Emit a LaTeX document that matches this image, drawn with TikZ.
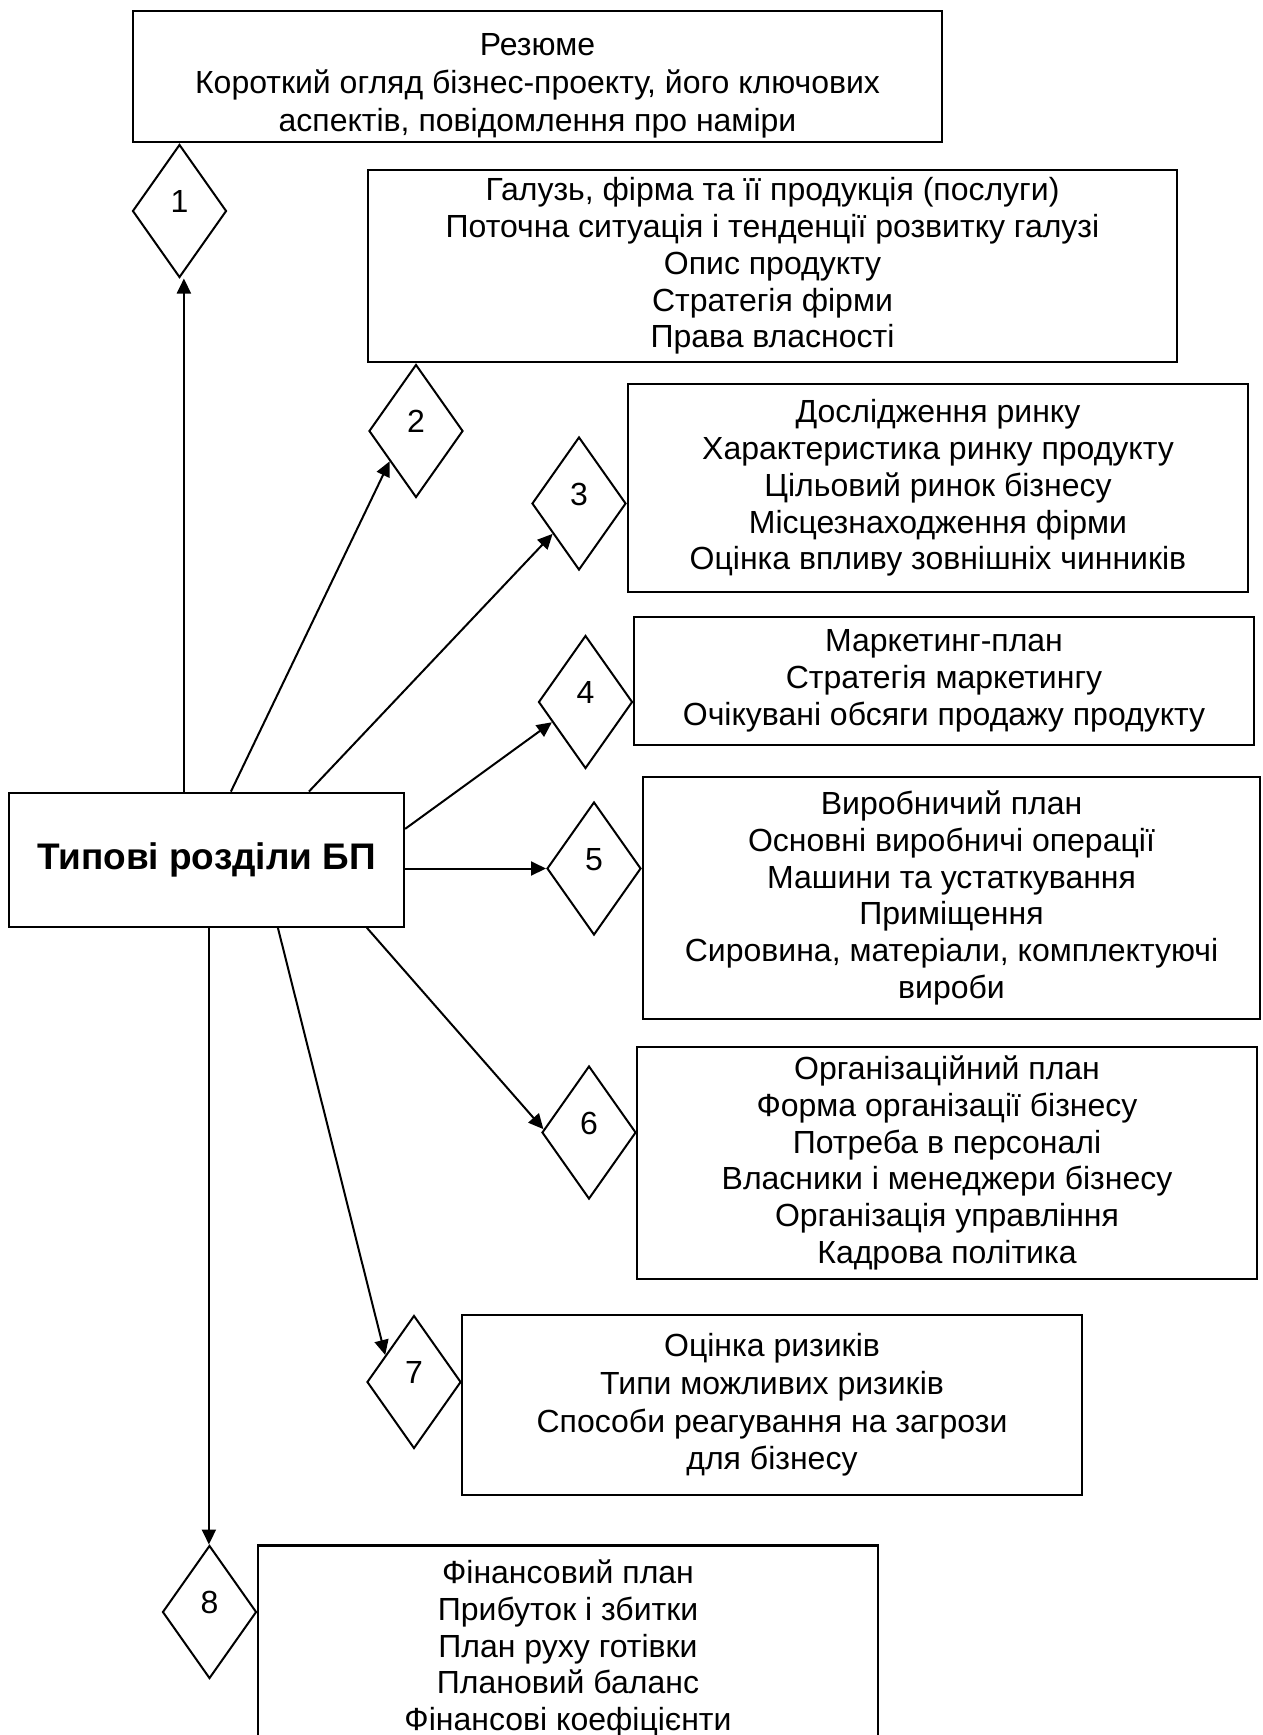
\documentclass[tikz,border=0pt]{standalone}
\usepackage{fontspec}
\setmainfont{Liberation Sans}
\usetikzlibrary{shapes.geometric,arrows.meta,calc}
\begin{document}
\begin{tikzpicture}[x=1pt,y=-1pt,
  box/.style={draw,line width=2.2pt,rectangle,align=center,inner sep=0pt,font=\fontsize{32}{36.8}\selectfont},
  dia/.style={draw,line width=2pt,diamond,inner sep=0pt,minimum width=94pt,minimum height=133pt,font=\fontsize{32}{36}\selectfont},
  arr/.style={line width=2pt,-{Triangle[length=15pt,width=14pt]}}]
\useasboundingbox[fill=white] (0,0) rectangle (1262,1735);

\node[box,minimum width=809pt,minimum height=131pt,font=\fontsize{32}{38}\selectfont] (b1) at (537.5,76.5)
  {\rule{0pt}{40pt}Резюме\\Короткий огляд бізнес-проекту, його ключових\\аспектів, повідомлення про наміри};
\node[box,minimum width=809pt,minimum height=192.5pt] (b2) at (772.5,266)
  {Галузь, фірма та її продукція (послуги)\\Поточна ситуація і тенденції розвитку галузі\\Опис продукту\\Стратегія фірми\\Права власності};
\node[box,minimum width=620pt,minimum height=208pt] (b3) at (938,488)
  {Дослідження ринку\\Характеристика ринку продукту\\Цільовий ринок бізнесу\\Місцезнаходження фірми\\Оцінка впливу зовнішніх чинників};
\node[box,minimum width=620pt,minimum height=128pt] (b4) at (944,681)
  {Маркетинг-план\\Стратегія маркетингу\\Очікувані обсяги продажу продукту};
\node[box,minimum width=617pt,minimum height=242pt] (b5) at (951.5,898)
  {Виробничий план\\Основні виробничі операції\\Машини та устаткування\\Приміщення\\Сировина, матеріали, комплектуючі\\вироби};
\node[box,minimum width=620pt,minimum height=232.5pt] (b6) at (947,1163)
  {Організаційний план\\Форма організації бізнесу\\Потреба в персоналі\\Власники і менеджери бізнесу\\Організація управління\\Кадрова політика};
\node[box,minimum width=620pt,minimum height=179.5pt,font=\fontsize{32}{37.7}\selectfont] (b7) at (772,1405)
  {Оцінка ризиків\\Типи можливих ризиків\\Способи реагування на загрози\\для бізнесу};
\node[box,minimum width=620pt,minimum height=206pt] (b8) at (568,1648.5)
  {Фінансовий план\\Прибуток і збитки\\План руху готівки\\Плановий баланс\\Фінансові коефіцієнти};

\node[box,minimum width=395pt,minimum height=134pt,font=\fontsize{37}{44}\selectfont\bfseries] (m) at (206.5,859.7) {Типові розділи БП};

\node[dia] (d1) at (179.5,211) {\raisebox{19pt}{1}};
\node[dia] (d2) at (416,431) {\raisebox{19pt}{2}};
\node[dia] (d3) at (579,503.5) {\raisebox{19pt}{3}};
\node[dia] (d4) at (585.5,702) {\raisebox{19pt}{4}};
\node[dia] (d5) at (594,868.5) {\raisebox{19pt}{5}};
\node[dia] (d6) at (589,1132.5) {\raisebox{19pt}{6}};
\node[dia] (d7) at (414,1382) {\raisebox{19pt}{7}};
\node[dia] (d8) at (209.5,1612) {\raisebox{19pt}{8}};

\coordinate (s1) at ($(m.north west)+(176,0)$);
\coordinate (s2) at ($(m.north west)+(223,0)$);
\coordinate (s3) at ($(m.north west)+(301,0)$);
\coordinate (s4) at ($(m.north east)+(0,37.3)$);
\coordinate (s6) at ($(m.south west)+(359,0)$);
\coordinate (s7) at ($(m.south west)+(270,0)$);
\coordinate (s8) at ($(m.south west)+(201,0)$);

\draw[arr] (s1) -- (s1 |- d1.south);
\draw[arr] (s2) -- ($(d2.west)!0.45!(d2.south)$);
\draw[arr] (s3) -- ($(d3.west)!0.45!(d3.south)$);
\draw[arr] (s4) -- ($(d4.west)!0.3!(d4.south)$);
\draw[arr] (m.east |- d5.west) -- (d5.west);
\draw[arr] (s6) -- ($(d6.west)!0.05!(d6.north)$);
\draw[arr] (s7) -- ($(d7.west)!0.4!(d7.north)$);
\draw[arr] (s8) -- (s8 |- d8.north);
\end{tikzpicture}
\end{document}
